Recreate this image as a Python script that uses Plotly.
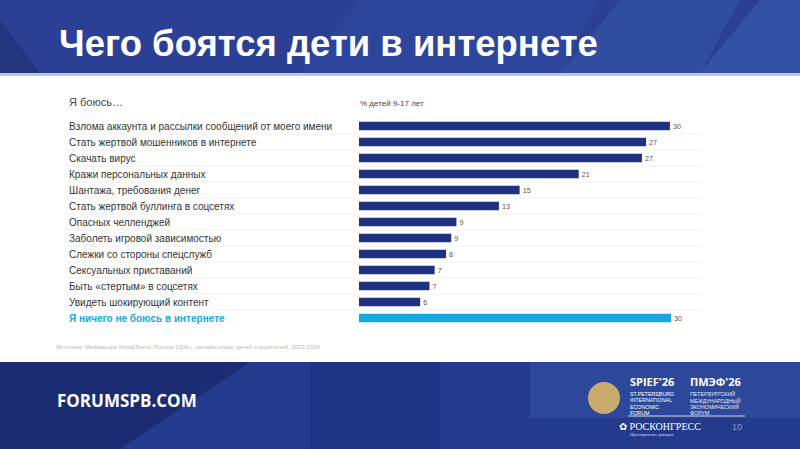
import plotly.graph_objects as go

categories = [
    "Взлома аккаунта и рассылки сообщений от моего имени",
    "Стать жертвой мошенников в интернете",
    "Скачать вирус",
    "Кражи персональных данных",
    "Шантажа, требования денег",
    "Стать жертвой буллинга в соцсетях",
    "Опасных челленджей",
    "Заболеть игровой зависимостью",
    "Слежки со стороны спецслужб",
    "Сексуальных приставаний",
    "Быть «стертым» в соцсетях",
    "Увидеть шокирующий контент",
    "Я ничего не боюсь в интернете",
]
values = [30.0, 27.7, 27.3, 21.2, 15.5, 13.5, 9.4, 8.9, 8.4, 7.3, 6.8, 5.9, 30.1]
value_labels = ["30", "27", "27", "21", "15", "13", "9", "9", "8", "7", "7", "6", "30"]

W, H = 800, 449
L, R, T, B = 359, 99, 118, 123
XMAX = 33.0
pw = W - L - R

DARK = "#1f3282"
CYAN = "#16a8df"
colors = [DARK] * 12 + [CYAN]

fig = go.Figure()
fig.add_trace(go.Bar(
    x=values, y=categories, orientation="h",
    marker=dict(color=colors, line=dict(width=0)),
    text=value_labels, textposition="outside", cliponaxis=False,
    textfont=dict(family="Liberation Sans, Arial", size=9.5, color="#555"),
    width=0.52, hoverinfo="skip",
))

def px(xp):  # pixel -> paper x
    return (xp - L) / pw

def py(yp):  # pixel -> paper y
    return 1 - (yp - T) / (H - T - B)

shapes = []
# header band
shapes.append(dict(type="rect", xref="paper", yref="paper", x0=px(0), x1=px(W), y0=py(73), y1=py(0),
                   fillcolor="#2b3f94", line_width=0, layer="below"))
for (x0, x1, c) in [(300, 560, "#2f4a9e"), (560, 700, "#3556a8"), (700, 800, "#3a5fb0")]:
    shapes.append(dict(type="path", xref="paper", yref="paper",
                       path=f"M {px(x0)},{py(73)} L {px(x1)},{py(73)} L {px(x1+40)},{py(0)} L {px(x0+60)},{py(0)} Z",
                       fillcolor=c, opacity=0.6, line_width=0, layer="below"))
shapes.append(dict(type="path", xref="paper", yref="paper",
                   path=f"M {px(0)},{py(73)} L {px(40)},{py(73)} L {px(0)},{py(20)} Z",
                   fillcolor="#24357f", line_width=0, layer="below"))
shapes.append(dict(type="rect", xref="paper", yref="paper", x0=px(0), x1=px(W), y0=py(76), y1=py(73),
                   fillcolor="#b9c6dc", line_width=0, layer="below"))
# footer band
shapes.append(dict(type="rect", xref="paper", yref="paper", x0=px(0), x1=px(W), y0=py(H), y1=py(362),
                   fillcolor="#243a8c", line_width=0, layer="below"))
shapes.append(dict(type="path", xref="paper", yref="paper",
                   path=f"M {px(0)},{py(362)} L {px(250)},{py(362)} L {px(120)},{py(449)} L {px(0)},{py(449)} Z",
                   fillcolor="#1c2c72", line_width=0, layer="below"))
shapes.append(dict(type="rect", xref="paper", yref="paper", x0=px(310), x1=px(440), y0=py(H), y1=py(362),
                   fillcolor="#1e3383", line_width=0, layer="below"))
shapes.append(dict(type="path", xref="paper", yref="paper",
                   path=f"M {px(530)},{py(362)} L {px(800)},{py(362)} L {px(800)},{py(418)} L {px(530)},{py(418)} Z",
                   fillcolor="#3556a8", opacity=0.5, line_width=0, layer="below"))
# row separators
for i in range(1, 13):
    yy = 118 + 16 * i
    shapes.append(dict(type="line", xref="paper", yref="paper", x0=px(67), x1=px(703),
                       y0=py(yy), y1=py(yy), line=dict(color="#f2f2f2", width=1), layer="below"))
# logo
shapes.append(dict(type="circle", xref="paper", yref="paper", x0=px(588), x1=px(620), y0=py(414), y1=py(382),
                   fillcolor="#c9ab6e", line_width=0))
shapes.append(dict(type="line", xref="paper", yref="paper", x0=px(628), x1=px(745), y0=py(416), y1=py(416),
                   line=dict(color="#d0d6e6", width=1)))

ann = []
def text(x, y, t, size, color, family="Liberation Sans, Arial", xanchor="left"):
    ann.append(dict(xref="paper", yref="paper", x=px(x), y=py(y), xanchor=xanchor, yanchor="middle",
                    text=t, showarrow=False, font=dict(family=family, size=size, color=color)))

for i, c in enumerate(categories):
    last = i == 12
    text(67, 126 + 16 * i, f"<b>{c}</b>" if last else c, 10, CYAN if last else "#333")

text(57, 44, "<b>Чего боятся дети в интернете</b>", 36.5, "white")
text(67, 102, "Я боюсь…", 11, "#444")
text(358, 103, "% детей 9-17 лет", 8, "#444")
text(54, 347, "Источник: Mediascope Kids&Teens, Россия 100К+, онлайн-опрос детей и родителей, 2023-2024", 6, "#b8b8b8")
text(55, 400, "<b>FORUMSPB.COM</b>", 17, "white", family="Open Sans, Liberation Sans")
text(628, 381, "<b>SPIEF'26</b>", 11, "white", family="Open Sans, Liberation Sans")
text(688, 381, "<b>ПМЭФ'26</b>", 11, "white", family="Open Sans, Liberation Sans")
for j, (a, b) in enumerate(zip(["ST.PETERSBURG", "INTERNATIONAL", "ECONOMIC", "FORUM"],
                               ["ПЕТЕРБУРГСКИЙ", "МЕЖДУНАРОДНЫЙ", "ЭКОНОМИЧЕСКИЙ", "ФОРУМ"])):
    text(628, 393.5 + 6.6 * j, a, 5.3, "white")
    text(688, 393.5 + 6.6 * j, b, 5.3, "#e6e9f3")
text(617, 426, "✿ РОСКОНГРЕСС", 10, "white", family="Liberation Serif, DejaVu Serif")
text(628, 434, "Пространство доверия", 4.5, "#dde", family="Liberation Serif, DejaVu Serif")
text(737, 427, "10", 9, "#8f9cc4", xanchor="center")

fig.update_layout(
    width=W, height=H, margin=dict(l=L, r=R, t=T, b=B),
    paper_bgcolor="white", plot_bgcolor="rgba(0,0,0,0)",
    showlegend=False, shapes=shapes, annotations=ann,
    xaxis=dict(range=[0, XMAX], visible=False, fixedrange=True),
    yaxis=dict(autorange="reversed", showticklabels=False, showgrid=False, zeroline=False,
               showline=False, ticks="", fixedrange=True),
    bargap=0.48,
)
fig.write_html("out.html")
